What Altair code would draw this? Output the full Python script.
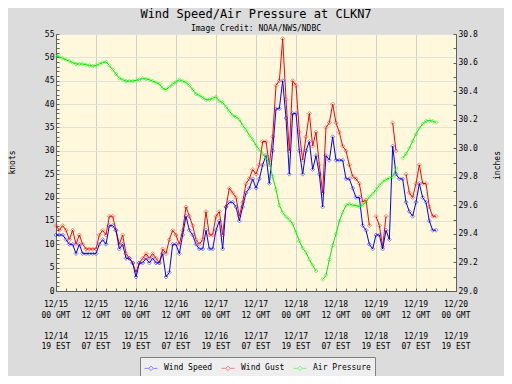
import altair as alt
import pandas as pd

# ---------------- data ----------------
hours = list(range(0, 115))  # hours after 12/15 00 GMT

wind_speed = [
    12, 12, 12, 11, 10, 10, 8, 10, 8, 8,
    8, 8, 8, 10, 11, 10, 14, 14, 13, 9,
    10, 7, 7, 6, 3, 6, 6, 7, 6, 7,
    6, 6, 8, 3, 4, 10, 10, 8, 12, 16,
    13, 12, 10, 9, 9, 13, 9, 9, 13, 15,
    9, 18, 19, 19, 18, 15, 18, 21, 22, 24,
    22, 24, 27, 29, 23, 30, 39, 39, 45, 37,
    25, 38, 38, 30, 25, 30, 32, 26, 29, 25,
    18, 29, 28, 33, 28, 28, 28, 24, 24, 22,
    20, 20, 14, 13, 10, 9, 12, 12, 9, 13,
    11, 31, 25, 24, 24, 19, 17, 16, 19, 23,
    20, 19, 15, 13, 13,
]

wind_gust = [
    14, 13, 14, 13, 11, 13, 10, 12, 10, 9,
    9, 9, 9, 12, 13, 12, 16, 16, 13, 10,
    12, 8, 7, 6, 4, 6, 7, 8, 7, 8,
    7, 6, 9, 8, 11, 13, 12, 10, 13, 18,
    16, 14, 11, 10, 11, 17, 12, 12, 16, 17,
    12, 18, 22, 21, 20, 16, 19, 23, 24, 26,
    25, 27, 32, 32, 27, 33, 44, 45, 54, 41,
    30, 45, 44, 34, 28, 33, 38, 31, 34, 27,
    21, 35, 36, 40, 36, 34, 31, 30, 27, 24.5,
    24, 23, 19, 19.5, 14, None, 16, 14, 9.5, 16,
    None, 36, 30, None, None, 25, 21, 20, 23, 27,
    23, 23, 18, 16, 16,
]

air_pressure = [
    30.65, 30.64, 30.63, 30.62, 30.61, 30.60, 30.59, 30.59, 30.59, 30.585,
    30.58, 30.575, 30.58, 30.59, 30.60, 30.605, 30.58, 30.55, 30.52, 30.49,
    30.48, 30.47, 30.47, 30.47, 30.475, 30.48, 30.49, 30.485, 30.48, 30.47,
    30.46, 30.45, 30.42, 30.41, 30.43, 30.45, 30.465, 30.48, 30.47, 30.46,
    30.44, 30.41, 30.38, 30.37, 30.355, 30.34, 30.34, 30.35, 30.36, 30.33,
    30.32, 30.29, 30.26, 30.23, 30.22, 30.20, 30.16, 30.13, 30.09, 30.06,
    30.02, 29.99, 29.96, 29.93, 29.90, 29.80, 29.71, 29.60, 29.55, 29.52,
    29.50, 29.47, 29.41, 29.35, 29.30, 29.27, 29.22, 29.18, 29.14, None,
    29.08, 29.11, 29.22, 29.32, 29.40, 29.49, 29.55, 29.60, 29.61, 29.60,
    29.60, 29.59, 29.60, 29.625, 29.66, 29.68, 29.71, 29.74, 29.765, 29.78,
    29.79, 29.80, 29.86, None, 29.93, 29.96, 30.00, 30.05, 30.10, 30.14,
    30.17, 30.19, 30.195, 30.19, 30.18,
]

series_names = ["Wind Speed", "Wind Gust", "Air Pressure"]
series_colors = ["#0000ff", "#ff0000", "#00ee00"]

label_hours = [0, 12, 24, 36, 48, 60, 72, 84, 96, 108, 120]
gmt_dates = ["12/15", "12/15", "12/16", "12/16", "12/17", "12/17",
             "12/18", "12/18", "12/19", "12/19", "12/20"]
gmt_times = ["00 GMT", "12 GMT", "00 GMT", "12 GMT", "00 GMT", "12 GMT",
             "00 GMT", "12 GMT", "00 GMT", "12 GMT", "00 GMT"]
est_dates = ["12/14", "12/15", "12/15", "12/16", "12/16", "12/17",
             "12/17", "12/18", "12/18", "12/19", "12/19"]
est_times = ["19 EST", "07 EST", "19 EST", "07 EST", "19 EST", "07 EST",
             "19 EST", "07 EST", "19 EST", "07 EST", "19 EST"]

knot_ticks = list(range(0, 56))
inch_ticks = [round(29.0 + 0.1 * i, 1) for i in range(19)]
hour_ticks = list(range(0, 121, 3))

# ---------------- tables ----------------
speed_df = pd.DataFrame({"hour": hours, "value": wind_speed, "series": "Wind Speed"})
gust_df = pd.DataFrame({"hour": hours, "value": wind_gust, "series": "Wind Gust"})
press_df = pd.DataFrame({"hour": hours, "value": air_pressure, "series": "Air Pressure"})
label_df = pd.DataFrame({"hour": label_hours, "gmt_date": gmt_dates, "gmt_time": gmt_times,
                         "est_date": est_dates, "est_time": est_times})

FONT = "DejaVu Sans Mono"

x_axis = alt.Axis(
    values=hour_ticks, labels=False,
    tickSize={"expr": "-3"}, tickColor="#606060",
    grid=True, gridColor="#d0d0d0",
    gridOpacity={"condition": {"test": "datum.value % 12 == 0", "value": 1}, "value": 0},
    domainColor="#606060", title=None,
)

left_axis = alt.Axis(
    orient="left", values=knot_ticks,
    labelExpr="datum.value % 5 == 0 ? datum.value : ''",
    labelOverlap=False, labelFont=FONT, labelFontSize=8, labelColor="black",
    labelPadding=5, labelBound=False,
    tickSize={"expr": "-3"}, tickColor="#606060",
    grid=True, gridColor="#e2e2d8",
    gridOpacity={"condition": {"test": "datum.value % 5 == 0", "value": 1}, "value": 0},
    domainColor="#606060",
    title="knots", titleFont=FONT, titleFontSize=8, titleFontWeight="normal",
    titleColor="black", titleAngle=270, titleX=-44, titleY=128,
    titleAlign="center", titleBaseline="middle",
)

right_axis = alt.Axis(
    orient="right", values=inch_ticks,
    labelExpr="round(datum.value * 10) % 2 == 0 ? format(datum.value, '.1f') : ''",
    labelOverlap=False, labelFont=FONT, labelFontSize=8, labelColor="black",
    labelPadding=5, labelBound=False,
    tickSize={"expr": "-3"}, tickColor="#606060",
    grid=False, domainColor="#606060",
    title="inches", titleFont=FONT, titleFontSize=8, titleFontWeight="normal",
    titleColor="black", titleAngle=270, titleX=41, titleY=131,
    titleAlign="center", titleBaseline="middle",
)

legend = alt.Legend(
    orient="none", legendX=84, legendY=323, direction="horizontal", title=None,
    fillColor="#eeeeee", strokeColor="#808080", padding=4,
    symbolType="M-1,0H-0.35M0.35,0H1M0,-0.35L0.35,0L0,0.35L-0.35,0Z",
    symbolSize=169, symbolStrokeWidth=1, symbolFillColor="transparent",
    labelFont=FONT, labelFontSize=8, labelColor="black", labelOffset=6,
    columnPadding=6,
)

color = alt.Color("series:N", scale=alt.Scale(domain=series_names, range=series_colors),
                  legend=legend)
x_enc = alt.X("hour:Q", scale=alt.Scale(domain=[0, 120], nice=False, zero=False), axis=x_axis)
y_left = alt.Y("value:Q", scale=alt.Scale(domain=[0, 55], nice=False, zero=False), axis=left_axis)
y_right = alt.Y("value:Q", scale=alt.Scale(domain=[29.0, 30.8], nice=False, zero=False),
                axis=right_axis)


def series_layers(df, y):
    base = alt.Chart(df).encode(x=x_enc, y=y, color=color)
    line = base.mark_line(strokeWidth=1)
    pts = base.mark_point(shape="diamond", filled=False, size=16, opacity=0.45, strokeWidth=1)
    return [line, pts]


def label_row(field, ypos):
    return alt.Chart(label_df).mark_text(
        font=FONT, fontSize=8, color="black", baseline="middle", align="center"
    ).encode(x=x_enc, y=alt.value(ypos), text=f"{field}:N")


press_layer = alt.layer(*series_layers(press_df, y_right))
wind_layer = alt.layer(*series_layers(gust_df, y_left), *series_layers(speed_df, y_left))
label_layer = alt.layer(
    label_row("gmt_date", 271), label_row("gmt_time", 281.5),
    label_row("est_date", 302.5), label_row("est_time", 313),
)

chart = (
    alt.layer(wind_layer, press_layer, label_layer)
    .resolve_scale(y="independent")
    .properties(
        width=400, height=257,
        padding={"left": 48, "top": 26, "right": 48, "bottom": 85},
        autosize=alt.AutoSizeParams(type="none"),
        title=alt.TitleParams(
            text="Wind Speed/Air Pressure at CLKN7",
            subtitle="Image Credit: NOAA/NWS/NDBC",
            font=FONT, fontSize=12, fontWeight="normal", color="black",
            subtitleFont=FONT, subtitleFontSize=8, subtitleColor="black",
            anchor="middle", offset=-4, subtitlePadding=4,
        ),
    )
    .configure(background="#dcdcdc")
    .configure_view(fill="#fff8dc", stroke="#606060")
)

chart.save("out.html", embed_options={"renderer": "svg", "actions": False})
